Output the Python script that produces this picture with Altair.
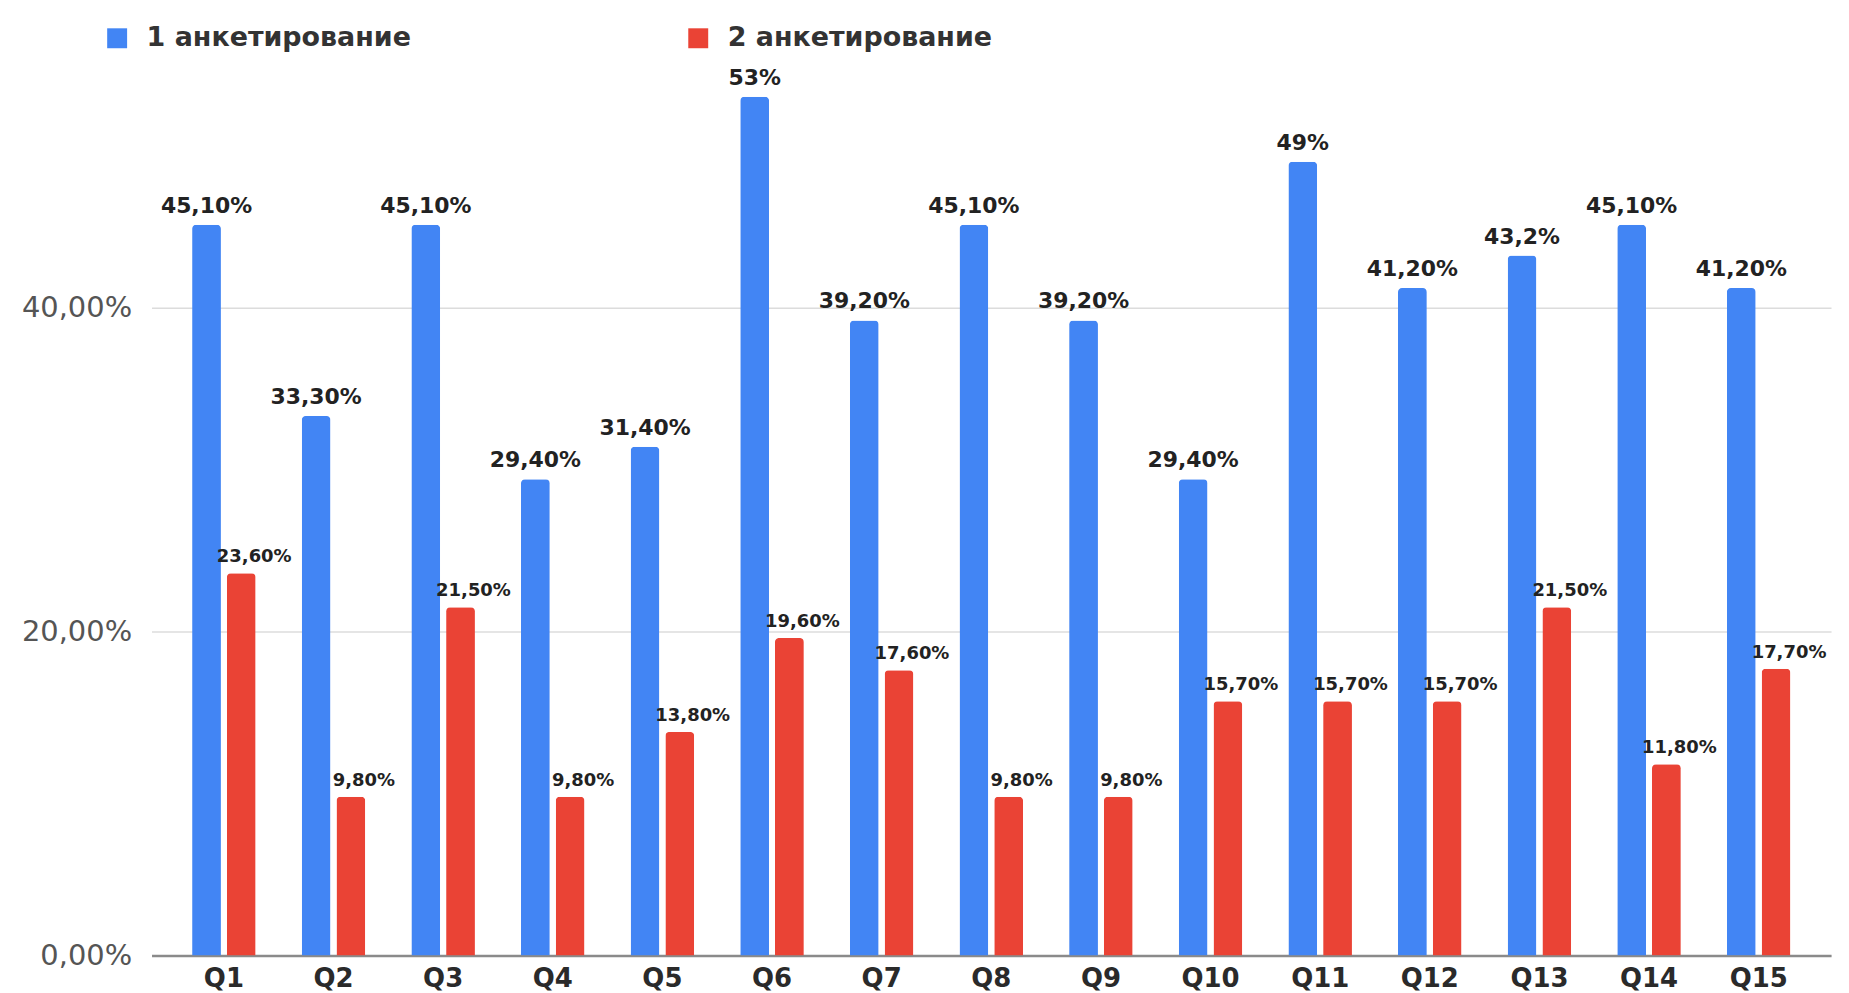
import altair as alt
import pandas as pd

questions = [f"Q{i}" for i in range(1, 16)]
series_names = ["1 анкетирование", "2 анкетирование"]
survey1 = [45.1, 33.3, 45.1, 29.4, 31.4, 53.0, 39.2, 45.1, 39.2, 29.4, 49.0, 41.2, 43.2, 45.1, 41.2]
survey2 = [23.6, 9.8, 21.5, 9.8, 13.8, 19.6, 17.6, 9.8, 9.8, 15.7, 15.7, 15.7, 21.5, 11.8, 17.7]
labels1 = ["45,10%", "33,30%", "45,10%", "29,40%", "31,40%", "53%", "39,20%", "45,10%",
           "39,20%", "29,40%", "49%", "41,20%", "43,2%", "45,10%", "41,20%"]
labels2 = ["23,60%", "9,80%", "21,50%", "9,80%", "13,80%", "19,60%", "17,60%", "9,80%",
           "9,80%", "15,70%", "15,70%", "15,70%", "21,50%", "11,80%", "17,70%"]
y_ticks = [0, 0.2, 0.4]

rows = []
for q, v1, v2, l1, l2 in zip(questions, survey1, survey2, labels1, labels2):
    rows.append({"q": q, "series": series_names[0], "value": v1 / 100, "label": l1})
    rows.append({"q": q, "series": series_names[1], "value": v2 / 100, "label": l2})
df = pd.DataFrame(rows)

BLUE = "#4285f4"
RED = "#ea4335"

x_enc = alt.X("q:N", sort=questions, title=None,
              scale=alt.Scale(paddingInner=0.42, paddingOuter=0.37),
              axis=alt.Axis(labelAngle=0, labelFont="DejaVu Sans", labelFontSize=26,
                            labelFontWeight="bold", labelColor="#2a2a2a", labelPadding=10,
                            ticks=False, domainColor="#8a8a8a", domainWidth=2.5, grid=False))
y_enc = alt.Y("value:Q", title=None,
              scale=alt.Scale(domain=[0, 0.55], nice=False),
              axis=alt.Axis(values=y_ticks, labelExpr="replace(format(datum.value, '.2%'), '.', ',')",
                            labelFont="DejaVu Sans", labelFontSize=29, labelColor="#555555",
                            labelPadding=20, ticks=False, domain=False,
                            gridColor="#dcdcdc", gridWidth=1.5))
xoff = alt.XOffset("series:N", sort=series_names, scale=alt.Scale(paddingInner=0.17))

bars = alt.Chart(df).mark_bar(cornerRadiusTopLeft=4, cornerRadiusTopRight=4).encode(
    x=x_enc, y=y_enc, xOffset=xoff,
    color=alt.Color("series:N", sort=series_names,
                    scale=alt.Scale(domain=series_names, range=[BLUE, RED]),
                    legend=alt.Legend(title=None, orient="none", direction="horizontal",
                                      legendX=-48, legendY=-40, symbolType="square",
                                      symbolSize=400, symbolStrokeWidth=0, labelOffset=16,
                                      columnPadding=274, labelFont="DejaVu Sans",
                                      labelFontSize=27, labelFontWeight="bold",
                                      labelColor="#333333", labelLimit=400)),
)

text1 = alt.Chart(df).transform_filter(alt.datum.series == series_names[0]).mark_text(
    baseline="bottom", dy=-7, font="DejaVu Sans", fontSize=22, fontWeight="bold", color="#222222"
).encode(x=x_enc, y=y_enc, xOffset=xoff, text="label:N")

text2 = alt.Chart(df).transform_filter(alt.datum.series == series_names[1]).mark_text(
    baseline="bottom", dy=-7, dx=13, font="DejaVu Sans", fontSize=18, fontWeight="bold", color="#222222"
).encode(x=x_enc, y=y_enc, xOffset=xoff, text="label:N")

chart = alt.layer(bars, text1, text2).properties(
    width=1685, height=894,
    background="white",
    autosize=alt.AutoSizeParams(type="none"),
    padding={"left": 144, "top": 55, "right": 10, "bottom": 40},
).configure_view(stroke="transparent", strokeWidth=0)

chart.save("out.html", embed_options={"renderer": "svg", "actions": False})
